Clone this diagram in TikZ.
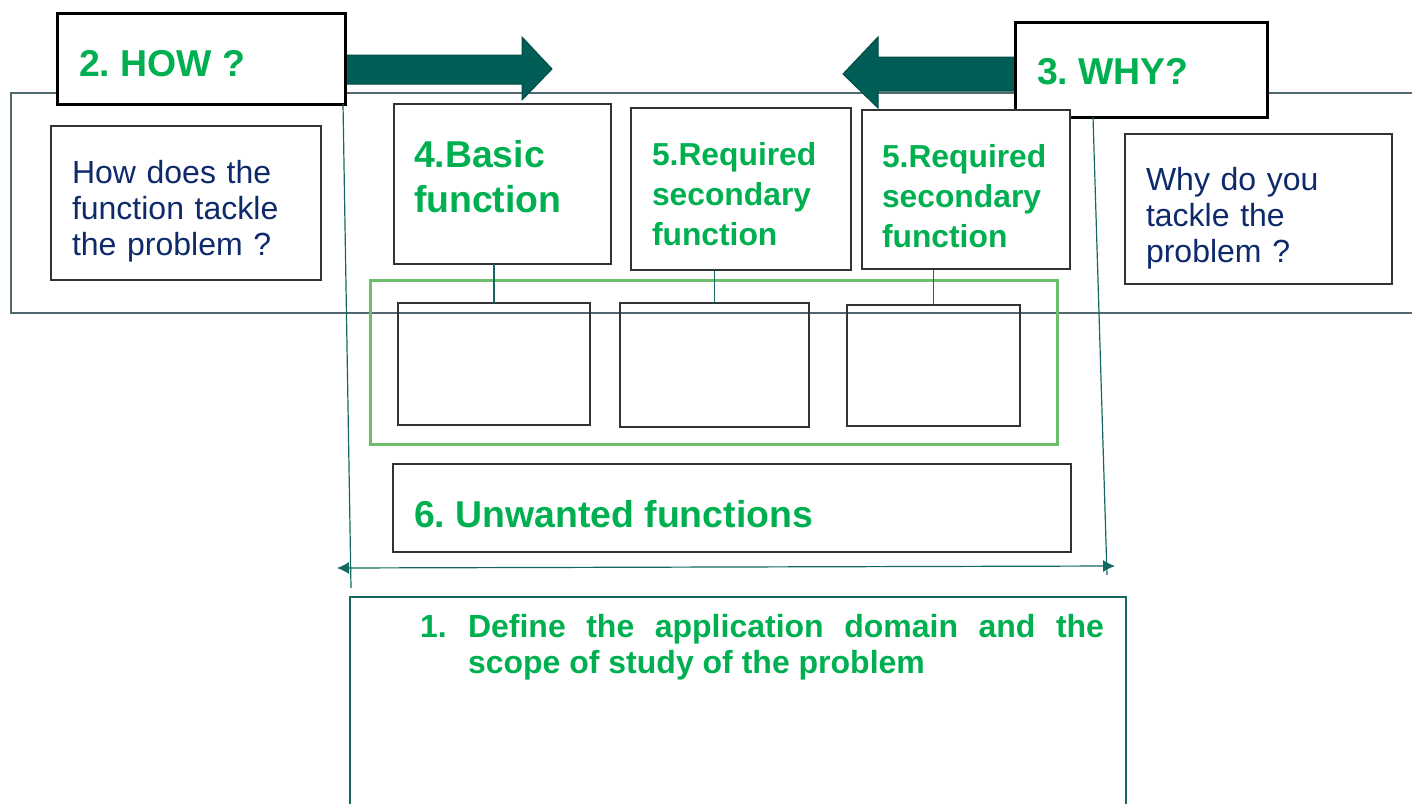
\documentclass[tikz,border=0pt]{standalone}
\usepackage{fontspec}
\setmainfont{Liberation Sans}
\usetikzlibrary{arrows.meta}
\frenchspacing
\definecolor{fngreen}{HTML}{00B050}
\definecolor{qnavy}{HTML}{0E2A6B}
\definecolor{arrowteal}{HTML}{005E56}
\definecolor{lineteal}{HTML}{13695F}
\definecolor{frameslate}{HTML}{526770}
\definecolor{groupgreen}{HTML}{6DBE6A}

\begin{document}
\begin{tikzpicture}[
  x=0.5pt, y=-0.5pt,
  every node/.style={inner sep=0pt, outer sep=0pt},
  box/.style={draw=black!80, line width=0.75pt, fill=white},
  head box/.style={box, draw=black, line width=1.5pt},
  big title/.style={text=fngreen, font=\fontsize{18.7}{22.5}\selectfont\bfseries},
  small title/.style={text=fngreen, font=\fontsize{15.9}{20}\selectfont\bfseries},
  question/.style={text=qnavy, font=\fontsize{16}{18.2}\selectfont},
  block arrow/.style={fill=arrowteal, draw=arrowteal!80!black, line width=0.5pt},
  guide/.style={draw=lineteal, line width=0.6pt},
]
\useasboundingbox (0,0) rectangle (1412,803);

\node[draw=frameslate, line width=1pt, minimum width=714.5pt, minimum height=110pt] (frame) at (725.5,203) {};
\node[draw=groupgreen, line width=1.5pt, minimum width=343.5pt, minimum height=82pt] (group) at (713.5,362) {};
\node[draw=black!80, line width=0.75pt, minimum width=96pt, minimum height=61pt] (sub1) at (494,364) {};
\node[draw=black!80, line width=0.75pt, minimum width=94.5pt, minimum height=62pt] (sub2) at (714.5,365) {};
\node[draw=black!80, line width=0.75pt, minimum width=86.5pt, minimum height=60.5pt] (sub3) at (933.5,365.5) {};

\node[box, minimum width=135pt, minimum height=77pt] (howq) at (186,203) {};
\node[box, minimum width=133.5pt, minimum height=75pt] (whyq) at (1258.5,209) {};
\node[question, anchor=base west, text width=125pt, align=left] (howq text) at (72,183) {How does the\\function tackle\\the problem ?};
\node[question, anchor=base west, text width=120pt, align=left] (whyq text) at (1146,190) {Why do you\\tackle the\\problem ?};

\coordinate (left foot) at (351,588);
\coordinate (right top) at (1093,117);
\coordinate (right foot) at (1107,575);
\coordinate (span left) at (337,568);
\coordinate (span right) at (1115,566);

\path[block arrow] (345,55) -- (522,55) -- (522,37) -- (552,69) -- (522,100) -- (522,84) -- (345,84) -- cycle;
\path[block arrow] (1015,57) -- (878,57) -- (878,37) -- (843,74) -- (878,108) -- (878,91) -- (1015,91) -- cycle;

\node[head box, minimum width=144pt, minimum height=45.5pt] (how) at (201,58.5) {};
\node[head box, minimum width=126pt, minimum height=47.5pt] (why) at (1141,69.5) {};
\node[big title, anchor=base west] (how text) at (79,76) {2. HOW ?};
\node[big title, anchor=base west] (why text) at (1037,84) {3. WHY?};

\draw[guide] ([xshift=-1pt]how.south east) -- (left foot);
\draw[guide] (right top) -- (right foot);

\node[box, minimum width=108.5pt, minimum height=80pt] (basic) at (502.5,184) {};
\node[box, minimum width=110pt, minimum height=81pt] (req1) at (741,189) {};
\node[box, minimum width=104pt, minimum height=79.5pt] (req2) at (966,189.5) {};
\node[big title, anchor=base west, text width=95pt, align=left] (basic text) at (414,167) {4.Basic\\function};
\node[small title, anchor=base west, text width=100pt, align=left] (req1 text) at (652,165) {5.Required\\secondary\\function};
\node[small title, anchor=base west, text width=95pt, align=left] (req2 text) at (882,167) {5.Required\\secondary\\function};

\draw[guide] (basic.south -| sub1.north) -- (sub1.north);
\draw[guide] (req1.south -| sub2.north) -- (sub2.north);
\draw[guide] (req2.south -| sub3.north) -- (sub3.north);

\node[box, minimum width=339pt, minimum height=44pt] (unwanted) at (732,508) {};
\node[big title, anchor=base west] (unwanted text) at (414,527) {6. Unwanted functions};

\draw[guide, {Latex[length=6pt,width=6pt]}-{Latex[length=6pt,width=6pt]}] (span left) -- (span right);

\node[draw=lineteal, line width=1.2pt, minimum width=388pt, minimum height=116.5pt] (scope) at (738,713.5) {};
\node[text=fngreen, font=\fontsize{16}{18}\selectfont\bfseries, anchor=base west] (scope text) at (420,637)
  {\makebox[24pt][l]{1.}\parbox[t]{318pt}{\tolerance=10000 Define the application domain and the scope of study of the problem}};
\end{tikzpicture}
\end{document}
